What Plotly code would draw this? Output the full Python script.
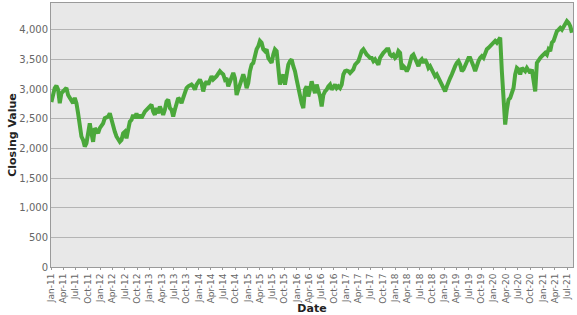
import pandas as pd
import plotly.graph_objects as go

start_date = "2011-01-03"
end_date = "2021-08-06"

closing_values = [
    2780, 2950, 3017, 3056, 2990, 2760, 2930, 2960, 2990, 3017,
    2900, 2850, 2820, 2760, 2850, 2760, 2590, 2310, 2200, 2140,
    2030, 2085, 2255, 2420, 2255, 2110, 2340, 2280, 2255, 2340,
    2380, 2420, 2510, 2520, 2535, 2590, 2480, 2340, 2280, 2200,
    2150, 2110, 2140, 2255, 2280, 2170, 2310, 2450, 2480, 2565,
    2510, 2590, 2510, 2565, 2510, 2590, 2620, 2650, 2680, 2705,
    2735, 2620, 2565, 2680, 2590, 2705, 2620, 2565, 2650, 2790,
    2820, 2680, 2650, 2535, 2650, 2760, 2850, 2820, 2760, 2850,
    2930, 3017, 3045, 3060, 3075, 3045, 2990, 3075, 3130, 3160,
    3100, 2960, 3075, 3130, 3075, 3160, 3215, 3160, 3185, 3215,
    3260, 3300, 3270, 3245, 3160, 3185, 3045, 3130, 3215, 3270,
    3185, 2900, 2990, 3100, 3160, 3245, 3160, 3017, 3100, 3300,
    3410, 3440, 3580, 3670, 3720, 3810, 3780, 3670, 3640, 3670,
    3525, 3470, 3440, 3580, 3670, 3640, 3300, 3075, 3185, 3245,
    3075, 3245, 3410, 3470, 3500, 3385, 3300, 3160, 3017,
    # second half
    2930, 2760, 2680, 2990, 3045, 2875, 2990, 3130, 3017, 2930,
    3075, 2990, 2875, 2705, 2900, 2960, 2990, 3045, 3075, 2990,
    3045, 3075, 3017, 3045, 3017, 3075, 3245, 3300, 3310, 3300,
    3270, 3300, 3330, 3410, 3440, 3470, 3555, 3640, 3670, 3610,
    3580, 3555, 3525, 3525, 3470, 3500, 3440, 3410, 3525, 3580,
    3610, 3640, 3670, 3670, 3580, 3555, 3580, 3525, 3555, 3640,
    3610, 3330, 3385, 3355, 3300, 3355, 3470, 3555, 3580, 3500,
    3470, 3385, 3470, 3500, 3440, 3500, 3440, 3355, 3385, 3330,
    3245, 3215, 3245, 3185, 3130, 3075, 2990, 2960, 3045, 3130,
    3185, 3245, 3330, 3385, 3440, 3470, 3410, 3300, 3330, 3385,
    3470, 3525, 3525, 3470, 3385, 3300, 3410, 3470, 3525, 3555,
    3525, 3610, 3670, 3695, 3720, 3750, 3780, 3810, 3780, 3835,
    3865, 3300, 2875, 2400, 2650, 2820, 2850, 2930, 3017, 3245,
    3355, 3330, 3245, 3355, 3330, 3300, 3355, 3300, 3270, 3330,
    3160, 2960, 3440, 3500, 3525, 3555, 3580, 3610, 3580, 3670,
    3640, 3780, 3810, 3890, 3975, 4000, 4030, 4000, 4060, 4115,
    4145, 4115, 4060, 3950,
]

dates = pd.date_range(start=start_date, end=end_date, periods=len(closing_values))

y_tick_values = [0, 500, 1000, 1500, 2000, 2500, 3000, 3500, 4000]

fig = go.Figure()
fig.add_trace(go.Scatter(
    x=dates, y=closing_values, mode="lines",
    line=dict(color="#4ba83b", width=4),
    showlegend=False,
))

fig.update_layout(
    width=577, height=315,
    margin=dict(l=51, r=4, t=3, b=48),
    paper_bgcolor="white",
    plot_bgcolor="#e8e8e8",
    font=dict(family="DejaVu Sans", size=10, color="#666666"),
)

fig.update_xaxes(
    range=["2010-12-31", "2021-08-14"],
    tickformat="%b-%y", dtick="M3", tick0="2011-01-01",
    tickangle=-90,
    showgrid=False,
    showline=True, linecolor="#9a9a9a", linewidth=1, mirror=True,
    ticks="outside", ticklen=2, tickcolor="#9a9a9a",
    tickfont=dict(size=9, color="#666666"),
    automargin=False,
    title=dict(text="<b>Date</b>", font=dict(size=11, color="#222222"), standoff=1),
)

fig.update_yaxes(
    range=[0, 4450],
    tickvals=y_tick_values, tickformat=",",
    showgrid=True, gridcolor="#b4b4b4", gridwidth=1,
    zeroline=False,
    showline=True, linecolor="#9a9a9a", linewidth=1, mirror=True,
    ticks="",
    tickfont=dict(size=10, color="#666666"),
    automargin=False,
    title=dict(text="<b>Closing Value</b>", font=dict(size=11, color="#222222"), standoff=0),
)

fig.write_html("out.html")
